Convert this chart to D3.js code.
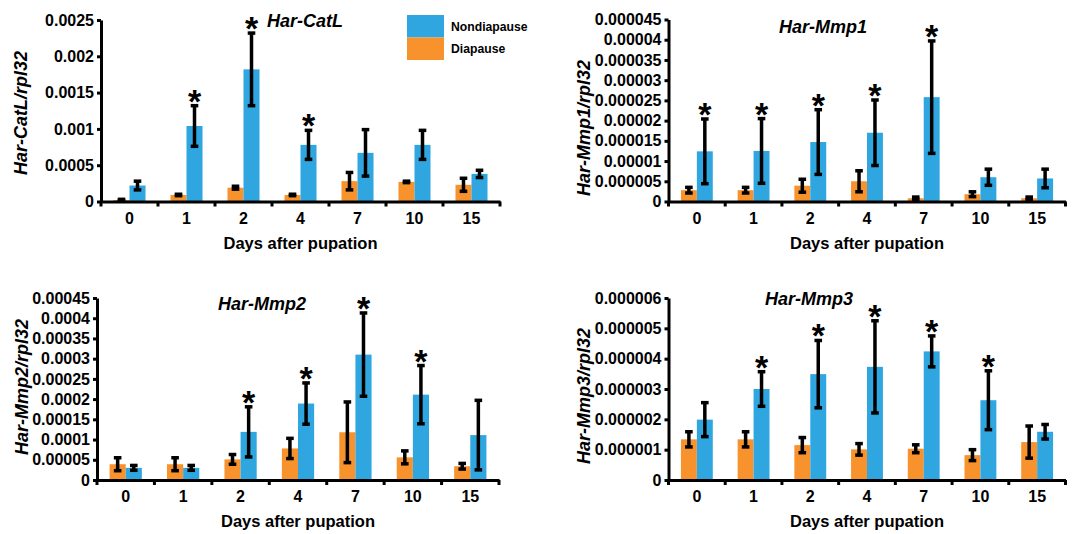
<!DOCTYPE html>
<html>
<head>
<meta charset="utf-8">
<script src="https://cdn.jsdelivr.net/npm/d3@7"></script>
<style>
  html, body { margin: 0; padding: 0; background: #ffffff; }
  svg { display: block; }
  text { font-family: "Liberation Sans", Arial, sans-serif; font-weight: bold; fill: #000; }
</style>
</head>
<body>
<svg id="chart" width="1072" height="534"></svg>
<script>
// ---------------- DATA ----------------
const days = ["0", "1", "2", "4", "7", "10", "15"];
const seriesNames = ["Diapause", "Nondiapause"];

// Har-CatL
const catlDia     = [0.00002, 0.00009, 0.00019, 0.00009, 0.00028, 0.00027, 0.00023];
const catlDiaErr  = [0.00001, 0.00001, 0.00002, 0.00001, 0.00012, 0.00001, 0.00009];
const catlNon     = [0.00022, 0.00104, 0.00182, 0.00078, 0.00067, 0.00078, 0.00038];
const catlNonErr  = [0.00006, 0.00028, 0.00050, 0.00020, 0.00032, 0.00020, 0.00005];
const catlSig     = [false, true, true, true, false, false, false];
const catlTicks   = ["0", "0.0005", "0.001", "0.0015", "0.002", "0.0025"];

// Har-Mmp1
const mmp1Dia     = [0.0000028, 0.0000028, 0.0000039, 0.0000050, 0.0000008, 0.0000018, 0.0000008];
const mmp1DiaErr  = [0.0000007, 0.0000007, 0.0000016, 0.0000026, 0.0000003, 0.0000006, 0.0000003];
const mmp1Non     = [0.0000124, 0.0000125, 0.0000147, 0.0000170, 0.0000258, 0.0000060, 0.0000057];
const mmp1NonErr  = [0.0000080, 0.0000080, 0.0000080, 0.0000081, 0.0000139, 0.0000020, 0.0000023];
const mmp1Sig     = [true, true, true, true, true, false, false];
const mmp1Ticks   = ["0", "0.000005", "0.00001", "0.000015", "0.00002", "0.000025", "0.00003", "0.000035", "0.00004", "0.000045"];

// Har-Mmp2
const mmp2Dia     = [0.000039, 0.000039, 0.000051, 0.000078, 0.000118, 0.000056, 0.000034];
const mmp2DiaErr  = [0.000016, 0.000016, 0.000012, 0.000025, 0.000075, 0.000016, 0.000007];
const mmp2Non     = [0.000030, 0.000030, 0.000119, 0.000189, 0.000310, 0.000211, 0.000111];
const mmp2NonErr  = [0.000006, 0.000006, 0.000062, 0.000051, 0.000103, 0.000072, 0.000086];
const mmp2Sig     = [false, false, true, true, true, true, false];
const mmp2Ticks   = ["0", "0.00005", "0.0001", "0.00015", "0.0002", "0.00025", "0.0003", "0.00035", "0.0004", "0.00045"];

// Har-Mmp3
const mmp3Dia     = [0.00000134, 0.00000134, 0.00000115, 0.00000101, 0.00000103, 0.00000082, 0.00000125];
const mmp3DiaErr  = [0.00000025, 0.00000025, 0.00000025, 0.00000019, 0.00000013, 0.00000018, 0.00000053];
const mmp3Non     = [0.00000199, 0.00000300, 0.00000349, 0.00000373, 0.00000424, 0.00000263, 0.00000159];
const mmp3NonErr  = [0.00000056, 0.00000057, 0.00000111, 0.00000152, 0.00000051, 0.00000097, 0.00000024];
const mmp3Sig     = [false, true, true, true, true, true, false];
const mmp3Ticks   = ["0", "0.000001", "0.000002", "0.000003", "0.000004", "0.000005", "0.000006"];

const legendItems = ["Nondiapause", "Diapause"];
const colors = { Diapause: "#f7922c", Nondiapause: "#2fa6e0" };

// ---------------- LAYOUT ----------------
const panels = [
  { gene: "Har-CatL", dia: catlDia, diaErr: catlDiaErr, non: catlNon, nonErr: catlNonErr, sig: catlSig, ticks: catlTicks,
    left: 101, right: 500, top: 20, bottom: 201.5, titleX: 305, titleY: 27, yTitleX: 20, yTitleY: 113, legend: true },
  { gene: "Har-Mmp1", dia: mmp1Dia, diaErr: mmp1DiaErr, non: mmp1Non, nonErr: mmp1NonErr, sig: mmp1Sig, ticks: mmp1Ticks,
    left: 668.5, right: 1065.5, top: 19.5, bottom: 201.5, titleX: 823, titleY: 33, yTitleX: 583, yTitleY: 128 },
  { gene: "Har-Mmp2", dia: mmp2Dia, diaErr: mmp2DiaErr, non: mmp2Non, nonErr: mmp2NonErr, sig: mmp2Sig, ticks: mmp2Ticks,
    left: 97, right: 499, top: 298, bottom: 480, titleX: 262, titleY: 310, yTitleX: 21, yTitleY: 387 },
  { gene: "Har-Mmp3", dia: mmp3Dia, diaErr: mmp3DiaErr, non: mmp3Non, nonErr: mmp3NonErr, sig: mmp3Sig, ticks: mmp3Ticks,
    left: 668.5, right: 1065.5, top: 298, bottom: 480, titleX: 809, titleY: 305, yTitleX: 583, yTitleY: 396 }
];

const svg = d3.select("#chart");
const FONT = "'Liberation Sans', Arial, sans-serif";

panels.forEach(p => {
  const g = svg.append("g");
  const tickVals = p.ticks.map(Number);
  const yMax = tickVals[tickVals.length - 1];

  const x0 = d3.scaleBand().domain(days).range([p.left, p.right]).padding(0);
  const x1 = d3.scaleBand().domain(seriesNames).range([0, x0.bandwidth()]).paddingInner(0).paddingOuter(0.78);
  const y = d3.scaleLinear().domain([0, yMax]).range([p.bottom, p.top]);

  const rows = [];
  days.forEach((d, i) => {
    rows.push({ day: d, s: "Diapause", v: p.dia[i], e: p.diaErr[i], sig: false });
    rows.push({ day: d, s: "Nondiapause", v: p.non[i], e: p.nonErr[i], sig: p.sig[i] });
  });

  // bars
  g.selectAll("rect.bar").data(rows).enter().append("rect")
    .attr("class", "bar")
    .attr("x", d => x0(d.day) + x1(d.s))
    .attr("width", x1.bandwidth())
    .attr("y", d => y(d.v))
    .attr("height", d => y(0) - y(d.v))
    .attr("fill", d => colors[d.s]);

  // error bars
  const cx = d => x0(d.day) + x1(d.s) + x1.bandwidth() / 2;
  const eb = g.selectAll("g.err").data(rows).enter().append("g").attr("class", "err");
  eb.append("line")
    .attr("x1", cx).attr("x2", cx)
    .attr("y1", d => y(d.v + d.e)).attr("y2", d => y(Math.max(0, d.v - d.e)))
    .attr("stroke", "#000").attr("stroke-width", 3.5);
  [1, -1].forEach(sign => {
    eb.append("line")
      .attr("x1", d => cx(d) - 3.8).attr("x2", d => cx(d) + 3.8)
      .attr("y1", d => y(Math.max(0, d.v + sign * d.e))).attr("y2", d => y(Math.max(0, d.v + sign * d.e)))
      .attr("stroke", "#000").attr("stroke-width", 3.5);
  });

  // significance stars
  g.selectAll("text.star").data(rows.filter(d => d.sig)).enter().append("text")
    .attr("class", "star")
    .attr("x", cx)
    .attr("y", d => y(d.v + d.e) + 7)
    .attr("text-anchor", "middle")
    .style("font-size", "34px")
    .text("*");

  // y axis
  const yAxis = d3.axisLeft(y).tickValues(tickVals).tickFormat((d, i) => p.ticks[i]).tickSize(4).tickSizeOuter(0).tickPadding(3);
  const ya = g.append("g").attr("transform", `translate(${p.left},0)`).call(yAxis);
  ya.select(".domain").attr("stroke", "#000").attr("stroke-width", 3);
  ya.selectAll(".tick line").attr("stroke", "#000").attr("stroke-width", 3);
  ya.selectAll(".tick text").style("font-size", "16px").style("font-family", FONT).style("font-weight", "bold");

  // x axis (labels centred in bands, ticks at band boundaries)
  const xAxis = d3.axisBottom(x0).tickSize(0).tickSizeOuter(0).tickPadding(11);
  const xa = g.append("g").attr("transform", `translate(0,${p.bottom})`).call(xAxis);
  xa.select(".domain").attr("stroke", "#000").attr("stroke-width", 3);
  xa.selectAll(".tick text").style("font-size", "16px").style("font-family", FONT).style("font-weight", "bold");
  const bounds = d3.range(days.length + 1).map(i => x0.range()[0] + i * x0.step());
  g.selectAll("line.xb").data(bounds).enter().append("line")
    .attr("x1", d => d).attr("x2", d => d)
    .attr("y1", p.bottom).attr("y2", p.bottom + 5)
    .attr("stroke", "#000").attr("stroke-width", 3);

  // x title
  g.append("text")
    .attr("x", (p.left + p.right) / 2)
    .attr("y", p.bottom + 47)
    .attr("text-anchor", "middle")
    .style("font-size", "16.5px")
    .text("Days after pupation");

  // y title
  g.append("text")
    .attr("transform", `translate(${p.yTitleX + 6.5},${p.yTitleY}) rotate(-90)`)
    .attr("text-anchor", "middle")
    .style("font-size", "18px")
    .style("font-style", "italic")
    .text(p.gene + "/rpl32");

  // panel title
  g.append("text")
    .attr("x", p.titleX).attr("y", p.titleY)
    .attr("text-anchor", "middle")
    .style("font-size", "18px")
    .style("font-style", "italic")
    .text(p.gene);

  // legend
  if (p.legend) {
    const lg = g.append("g");
    lg.selectAll("rect").data(legendItems).enter().append("rect")
      .attr("x", 407).attr("y", (d, i) => 15 + i * 22.5)
      .attr("width", 37).attr("height", 22.5)
      .attr("fill", d => colors[d]);
    lg.selectAll("text").data(legendItems).enter().append("text")
      .attr("x", 451).attr("y", (d, i) => 30.5 + i * 22.5)
      .style("font-size", "12.2px")
      .text(d => d);
  }
});
</script>
</body>
</html>
